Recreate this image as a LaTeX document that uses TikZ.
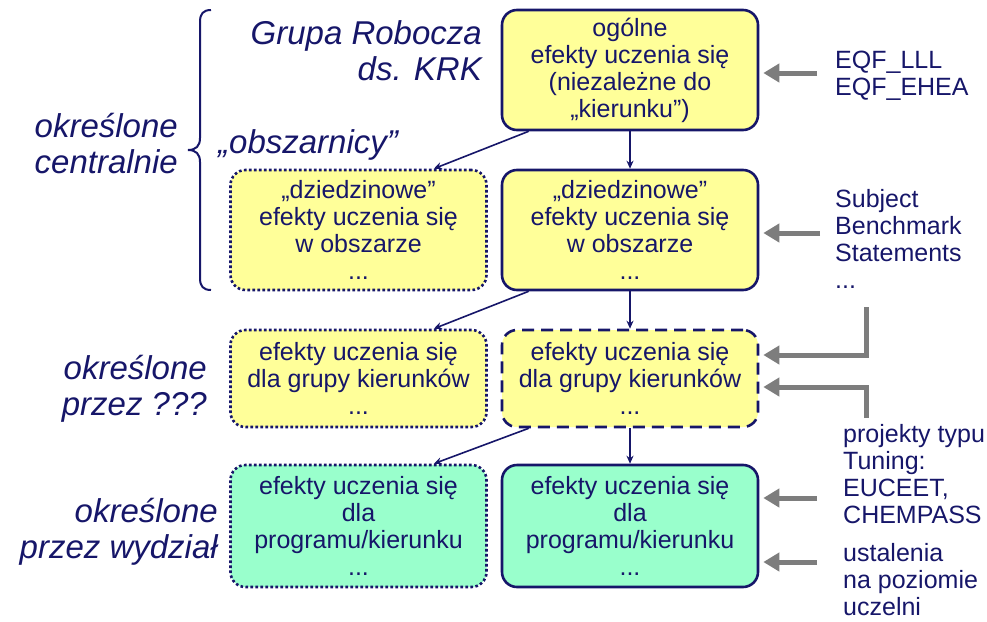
\documentclass[tikz,border=0pt]{standalone}
\usepackage{fontspec}
\setmainfont{Liberation Sans}
\usetikzlibrary{arrows.meta,calc}
\definecolor{navy}{RGB}{22,22,105}
\definecolor{boxyellow}{RGB}{255,255,153}
\definecolor{boxgreen}{RGB}{153,255,204}
\definecolor{arrowgray}{RGB}{125,125,125}
\tikzset{
  box/.style={draw=navy, line width=2.6pt, rounded corners=15pt, align=center,
    text=navy, minimum width=256pt, inner sep=0pt,
    font=\fontsize{25}{27}\selectfont},
  solidbox/.style={box},
  dotbox/.style={box, line width=2.6pt, dash pattern=on 2.6pt off 2.4pt},
  dashbox/.style={box, dash pattern=on 12pt off 7pt},
  yellowfill/.style={fill=boxyellow},
  greenfill/.style={fill=boxgreen},
  flow/.style={draw=navy, line width=1.6pt, -{Stealth[length=8pt,width=7pt]}},
  feed/.style={draw=arrowgray, line width=5pt, -{Triangle[length=16pt,width=18pt]}, shorten >=4pt},
  biglabel/.style={text=navy, inner sep=0pt, align=right, font=\fontsize{33}{36}\selectfont\itshape},
  sidetext/.style={text=navy, inner sep=0pt, align=left, anchor=base west, font=\fontsize{25}{27}\selectfont},
}
\begin{document}
\begin{tikzpicture}[x=1pt,y=-1pt]
\useasboundingbox (0,0) rectangle (987,621);

% boxes
\node[solidbox, yellowfill, minimum height=120pt] (A) at (630,70)
  {ogólne\\efekty uczenia się\\(niezależne do\\„kierunku”)};
\node[solidbox, yellowfill, minimum height=120pt] (B) at (630,230)
  {„dziedzinowe”\\efekty uczenia się\\w obszarze\\...};
\node[dotbox, yellowfill, minimum height=120pt] (C) at (358.5,230)
  {„dziedzinowe”\\efekty uczenia się\\w obszarze\\...};
\node[dotbox, yellowfill, minimum height=97pt] (D) at (358.5,378.5)
  {efekty uczenia się\\dla grupy kierunków\\...};
\node[dashbox, yellowfill, minimum height=97pt] (E) at (630,378.5)
  {efekty uczenia się\\dla grupy kierunków\\...};
\node[dotbox, greenfill, minimum height=122pt] (F) at (358.5,526)
  {efekty uczenia się\\dla\\programu/kierunku\\...};
\node[solidbox, greenfill, minimum height=122pt] (G) at (630,526)
  {efekty uczenia się\\dla\\programu/kierunku\\...};

% flow arrows
\draw[flow] (A.south) -- (B.north);
\draw[flow] ([xshift=28pt]A.south west) -- ([xshift=-54pt]C.north east);
\draw[flow] (B.south) -- (E.north);
\draw[flow] ([xshift=28pt]B.south west) -- ([xshift=-54pt]D.north east);
\draw[flow] (E.south) -- (G.north);
\draw[flow] ([xshift=28pt]E.south west) -- ([xshift=-54pt]F.north east);

% left labels (base anchor = last line)
\node[biglabel, anchor=base east] (grp) at (482,80) {Grupa Robocza\\ds. KRK};
\node[biglabel, anchor=base west] (obs) at (218,153) {„obszarnicy”};
\node[biglabel, anchor=base east] (cen) at (178,173) {określone\\centralnie};
\node[biglabel, anchor=base east] (prz) at (207,415) {określone\\przez ???};
\node[biglabel, anchor=base east] (wyd) at (218,558) {określone\\przez wydział};

% brace
\draw[draw=navy, line width=2pt] (211,10) .. controls (203,10) and (200,14) .. (200,22)
  -- (200,138) .. controls (200,146) and (196,150) .. (188,150)
  .. controls (196,150) and (200,154) .. (200,162)
  -- (200,278) .. controls (200,286) and (203,290) .. (211,290);

% right texts
\node[sidetext] (eqf) at (835,95) {EQF\_LLL\\EQF\_EHEA};
\node[sidetext] (sbs) at (835,288) {Subject\\Benchmark\\Statements\\...};
\node[sidetext] (tun) at (843,523) {projekty typu\\Tuning:\\EUCEET,\\CHEMPASS};
\node[sidetext] (ust) at (843,615) {ustalenia\\na poziomie\\uczelni};

% feed arrows
\coordinate (g1) at (817,73);
\coordinate (g2) at (820,233);
\coordinate (g3) at (866,307);
\coordinate (g4) at (866,418);
\coordinate (g5) at (817,498);
\coordinate (g6) at (817,562);
\draw[feed] (g1) -- (g1 -| A.east);
\draw[feed] (g2) -- (g2 -| B.east);
\draw[feed] (g3) |- ([yshift=23.5pt]E.east);
\draw[feed] (g4) |- ([yshift=-8.5pt]E.east);
\draw[feed] (g5) -- (g5 -| G.east);
\draw[feed] (g6) -- (g6 -| G.east);
\end{tikzpicture}
\end{document}
